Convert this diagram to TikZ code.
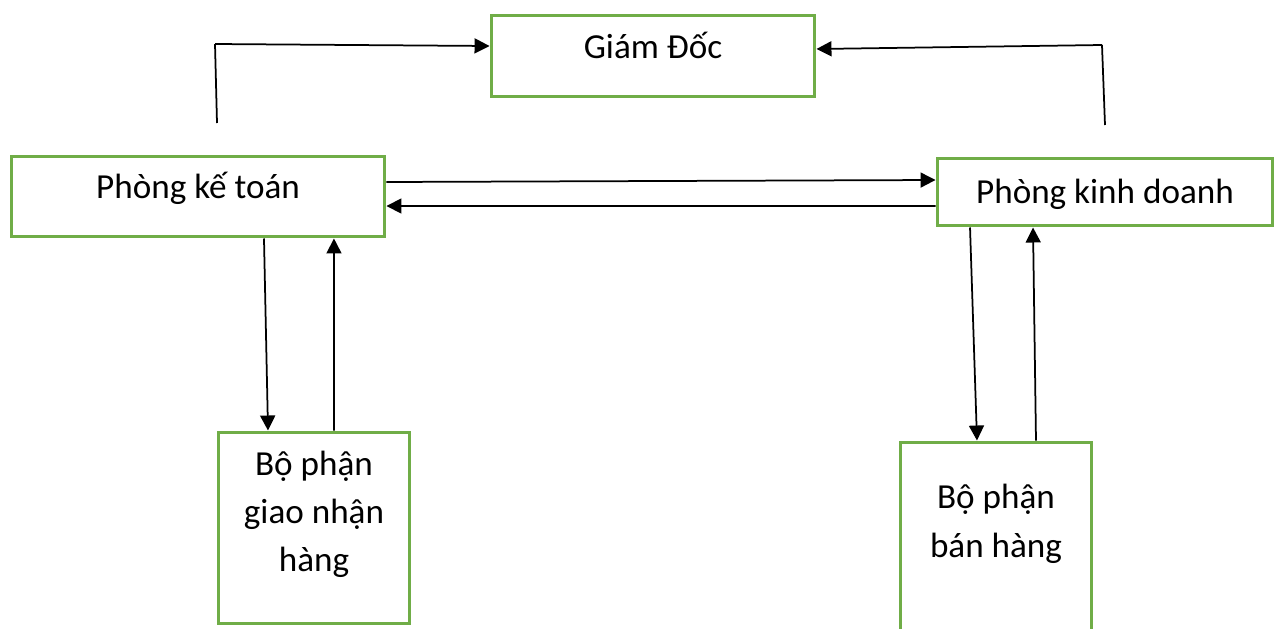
\documentclass[tikz,border=0pt]{standalone}
\usepackage{fontspec}
\setmainfont{Carlito}
\usetikzlibrary{arrows.meta}
\definecolor{xanhla}{RGB}{112,173,71}
\tikzset{
  khoi/.style={draw=xanhla,line width=0.06cm,inner sep=0pt,align=center,font=\fontsize{20}{27.5}\selectfont},
  muiten/.style={-{Triangle[length=0.3cm,width=0.3cm]},line width=0.035cm},
  duong/.style={line width=0.035cm}
}

\begin{document}
\begin{tikzpicture}[x=0.02cm,y=-0.02cm]
\useasboundingbox (0,0) rectangle (1279,629);

\node[khoi,minimum width=6.48cm,minimum height=1.64cm,text height=0.5cm,text depth=0.42cm] (giamdoc) at (653,56) {Giám Đốc};
\node[khoi,minimum width=7.48cm,minimum height=1.62cm,text height=0.5cm,text depth=0.44cm] (ketoan) at (198,196.5) {Phòng kế toán};
\node[khoi,minimum width=6.72cm,minimum height=1.36cm,text height=0.6cm,text depth=0.16cm] (kinhdoanh) at (1105,192) {Phòng kinh doanh};
\node[khoi,minimum width=3.84cm,minimum height=3.84cm,text height=1.9cm,text depth=0.14cm] (giaonhan) at (314,528) {Bộ phận\\giao nhận\\hàng};
\node[khoi,minimum width=3.84cm,minimum height=4.36cm,text height=1.2cm,text depth=0.96cm] (banhang) at (996,551) {Bộ phận\\bán hàng};

\coordinate (goctrai) at (217,123);
\coordinate (khuctrai) at (215,44);
\coordinate (gocphai) at (1105,125);
\coordinate (khucphai) at (1102,45);

\draw[duong] (goctrai) -- (khuctrai);
\draw[muiten] (khuctrai) -- ([yshift=0.2cm]giamdoc.west);
\draw[duong] (gocphai) -- (khucphai);
\draw[muiten] (khucphai) -- ([yshift=0.14cm]giamdoc.east);

\draw[muiten] ([yshift=0.29cm]ketoan.east) -- ([yshift=0.24cm]kinhdoanh.west);
\draw[muiten] ([yshift=-0.28cm]kinhdoanh.west) -- ([yshift=-0.19cm]ketoan.east);

\draw[muiten] ([xshift=1.32cm]ketoan.south) -- ([xshift=-0.92cm]giaonhan.north);
\draw[muiten] ([xshift=0.4cm]giaonhan.north) -- ([xshift=2.72cm]ketoan.south);

\draw[muiten] ([xshift=-2.7cm]kinhdoanh.south) -- ([xshift=-0.38cm]banhang.north);
\draw[muiten] ([xshift=0.8cm]banhang.north) -- ([xshift=-1.44cm]kinhdoanh.south);
\end{tikzpicture}
\end{document}
